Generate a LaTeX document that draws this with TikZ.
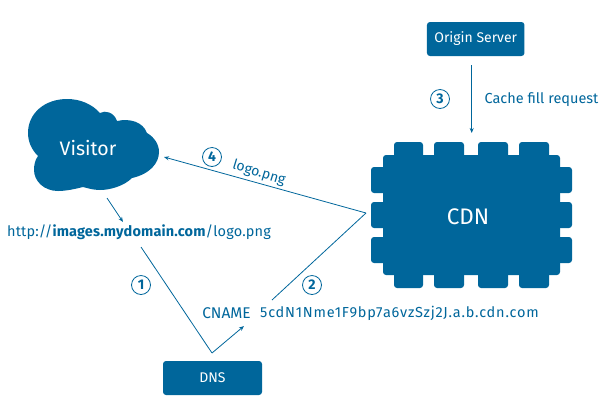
\documentclass[tikz,border=0pt]{standalone}
\usepackage{fontspec}
\setmainfont{Fira Sans}
\usetikzlibrary{arrows.meta}
\definecolor{cdnblue}{HTML}{00669B}
\tikzset{
  box/.style={fill=cdnblue,rounded corners=3pt,text=white,inner sep=0pt,font=\fontsize{14}{16}\selectfont,anchor=center},
  blob/.style={fill=cdnblue,draw=none},
  tab/.style={fill=cdnblue,rounded corners=3pt},
  conn/.style={draw=cdnblue,line width=0.8pt},
  arr/.style={conn,-{Stealth[length=5pt,width=4pt]}},
  lab/.style={text=cdnblue,inner sep=0pt,font=\fontsize{14.5}{16}\selectfont},
  num/.style={circle,draw=cdnblue,line width=0.8pt,text=cdnblue,minimum size=19pt,inner sep=0pt,font=\fontsize{14}{16}\bfseries\selectfont}
}
\begin{document}
\begin{tikzpicture}[x=1pt,y=-1pt]
\useasboundingbox (0,0) rectangle (609,408);
% cloud
\fill[blob] (38,156) .. controls (31,149) and (28,141) .. (28,133)
  .. controls (28,113) and (45,99) .. (67,99)
  .. controls (80,99) and (92,104) .. (100,113)
  .. controls (105,110) and (114,112) .. (117,121)
  .. controls (130,118) and (143,122) .. (147,133)
  .. controls (154,137) and (159,144) .. (159,152)
  .. controls (159,163) and (150,174) .. (132,178)
  .. controls (124,186) and (110,190) .. (100,190)
  .. controls (93,190) and (87,188) .. (83,187)
  .. controls (75,189) and (66,191) .. (58,191)
  .. controls (44,191) and (34,181) .. (34,170)
  .. controls (34,165) and (35,160) .. (38,156) -- cycle;
\node[text=white,inner sep=0pt,font=\fontsize{19.5}{22}\selectfont] (visitor) at (88,148) {Visitor};
% CDN
\fill[tab] (383,155) rectangle (560,275);
\foreach \xa/\xb in {394/423,434/464,478/508,519/549}
  \fill[tab] (\xa,142) rectangle (\xb,288);
\foreach \ya/\yb in {167/193,202/228,237/263}
  \fill[tab] (371,\ya) rectangle (572,\yb);
\node[text=white,inner sep=0pt,font=\fontsize{22.5}{26}\selectfont] (cdn) at (468,217) {CDN};
% boxes
\node[box,minimum width=97.5pt,minimum height=34pt] (origin) at (475.7,39) {Origin Server};
\node[box,minimum width=99pt,minimum height=34pt] (dns) at (212.5,378) {DNS};
% labels
\node[lab] (url) at (139,232) {\addfontfeature{LetterSpace=1}http://\textbf{images.mydomain.com}/logo.png};
\node[lab,font=\fontsize{15.5}{17}\selectfont] (cname) at (226.5,313) {CNAME};
\node[lab,anchor=west] (target) at (260,313) {\addfontfeature{LetterSpace=5.5}5cdN1Nme1F9bp7a6vzSzj2J.a.b.cdn.com};
\node[lab] (fill) at (541.5,100) {Cache fill request};
\node[lab,rotate=-17,font=\fontsize{14}{16}\selectfont] (logo) at (259,173) {logo.png};
\node[num] (n1) at (141,285) {1};
\node[num] (n2) at (312,285) {2};
\node[num] (n3) at (440,99) {3};
\node[num] (n4) at (212,157) {4};
% connector ends
\coordinate (os) at (471.7,65);
\coordinate (ce) at (471.7,133);
\coordinate (apex) at (366,213);
\coordinate (vis) at (164,157);
\coordinate (back) at (272,300);
\coordinate (urlb) at (141,247);
\coordinate (dnst) at (212,353);
\coordinate (cn) at (244,326);
\coordinate (vb) at (107,198);
\coordinate (urlt) at (123,222);
\draw[arr] (os) -- (ce);
\draw[arr] (apex) -- (vis);
\draw[conn] (apex) -- (back);
\draw[conn] (urlb) -- (dnst);
\draw[arr] (dnst) -- (cn);
\draw[arr] (vb) -- (urlt);
\end{tikzpicture}
\end{document}
